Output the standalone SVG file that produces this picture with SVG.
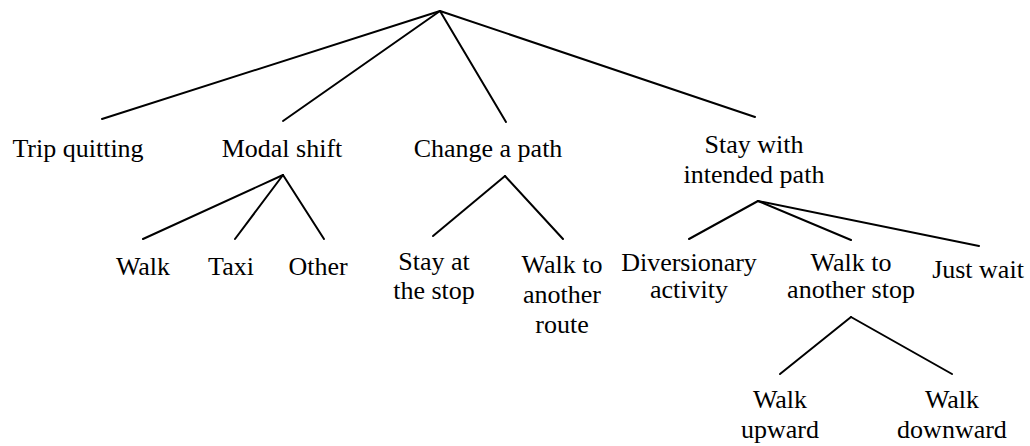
<svg xmlns="http://www.w3.org/2000/svg" width="1030" height="446" viewBox="0 0 1030 446">
  <style>
    .lbl text { font-size: 26px; fill: #000; text-anchor: middle; }
    .edge { stroke: #000; stroke-width: 2; fill: none; stroke-linecap: round; }
  </style>
  <rect width="1030" height="446" fill="#fff"/>

  <!-- tree branches -->
  <g id="connectors">
    <line class="edge" x1="440" y1="11" x2="102" y2="119"/>
    <line class="edge" x1="440" y1="11" x2="283" y2="121"/>
    <line class="edge" x1="440" y1="11" x2="506" y2="122"/>
    <line class="edge" x1="440" y1="11" x2="755" y2="117"/>

    <line class="edge" x1="283" y1="175" x2="143" y2="239"/>
    <line class="edge" x1="283" y1="175" x2="235" y2="239"/>
    <line class="edge" x1="283" y1="175" x2="324" y2="239"/>

    <line class="edge" x1="505" y1="176" x2="433" y2="236"/>
    <line class="edge" x1="505" y1="176" x2="563" y2="239"/>

    <line class="edge" x1="758" y1="201" x2="689" y2="239"/>
    <line class="edge" x1="758" y1="201" x2="851" y2="240"/>
    <line class="edge" x1="758" y1="201" x2="979" y2="246"/>

    <line class="edge" x1="851" y1="317" x2="780" y2="374"/>
    <line class="edge" x1="851" y1="317" x2="952" y2="374"/>
  </g>

  <g class="lbl" font-family="Liberation Serif, Times New Roman, serif">
    <g id="trip-quitting"><text x="78" y="157">Trip quitting</text></g>
    <g id="modal-shift"><text x="282" y="157">Modal shift</text></g>
    <g id="change-path"><text x="488" y="157">Change a path</text></g>
    <g id="stay-intended">
      <text x="754" y="153">Stay with</text>
      <text x="754" y="183">intended path</text>
    </g>

    <g id="walk"><text x="143" y="275">Walk</text></g>
    <g id="taxi"><text x="231" y="275">Taxi</text></g>
    <g id="other"><text x="318" y="275">Other</text></g>

    <g id="stay-stop">
      <text x="434" y="270">Stay at</text>
      <text x="434" y="299">the stop</text>
    </g>
    <g id="walk-route">
      <text x="562" y="273">Walk to</text>
      <text x="562" y="303">another</text>
      <text x="562" y="333">route</text>
    </g>

    <g id="diversionary">
      <text x="689" y="271">Diversionary</text>
      <text x="689" y="298">activity</text>
    </g>
    <g id="walk-stop">
      <text x="851" y="271">Walk to</text>
      <text x="851" y="298">another stop</text>
    </g>
    <g id="just-wait"><text x="978" y="278">Just wait</text></g>

    <g id="walk-upward">
      <text x="780" y="408">Walk</text>
      <text x="780" y="438">upward</text>
    </g>
    <g id="walk-downward">
      <text x="952" y="408">Walk</text>
      <text x="952" y="438">downward</text>
    </g>
  </g>
</svg>
